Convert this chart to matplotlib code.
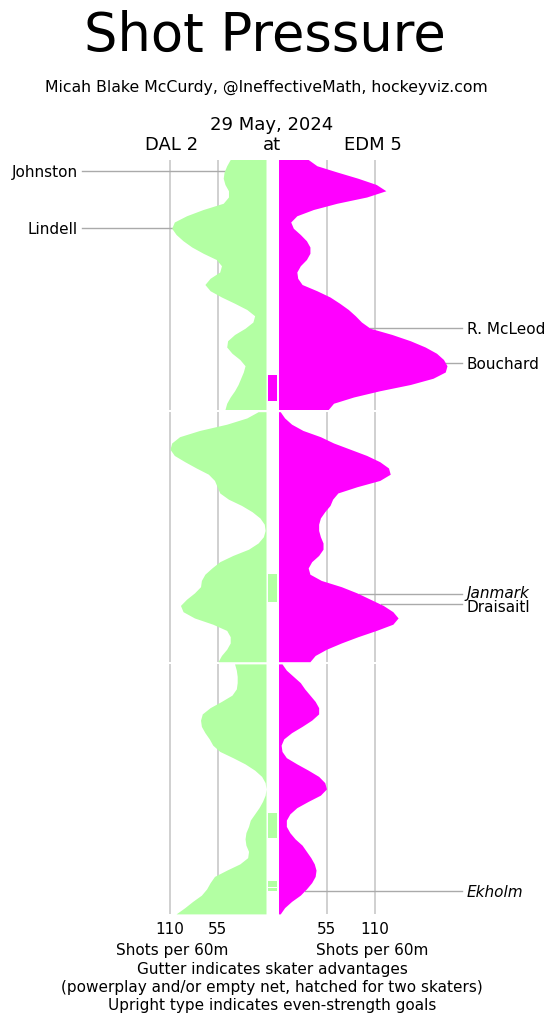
import numpy as np
import matplotlib
matplotlib.use("Agg")
import matplotlib.pyplot as plt

# minutes within a period, sampled every half minute
minutes = np.arange(0, 20.5, 0.5)

# shots per 60 minutes, one list per team per period
dal_p1 = [41, 45, 48, 49, 47, 43, 43, 49, 72, 91, 105, 108, 103, 95, 85, 72, 57, 51, 53, 64,
          70, 64, 51, 36, 22, 13, 15, 24, 36, 44, 45, 39, 30, 24, 26, 29, 32, 36, 41, 45, 47]
edm_p1 = [34, 44, 67, 91, 112, 123, 101, 67, 40, 21, 14, 17, 25, 32, 36, 36, 32, 25, 21, 22,
          27, 44, 59, 70, 80, 88, 95, 105, 130, 151, 168, 181, 189, 193, 191, 177, 151, 116, 86, 63, 57]
dal_p2 = [9, 22, 45, 76, 99, 108, 110, 105, 93, 80, 66, 59, 56, 53, 43, 28, 16, 7, 2, 1,
          3, 9, 20, 38, 53, 62, 70, 74, 75, 82, 91, 98, 95, 82, 61, 45, 41, 41, 45, 51, 55]
edm_p2 = [2, 7, 15, 28, 48, 63, 82, 101, 116, 126, 128, 116, 90, 68, 62, 59, 53, 48, 46, 46,
          48, 51, 51, 46, 38, 34, 36, 49, 72, 90, 105, 120, 131, 137, 131, 112, 91, 72, 55, 42, 36]
dal_p3 = [36, 34, 33, 33, 34, 39, 51, 64, 73, 75, 74, 70, 65, 61, 53, 38, 24, 13, 5, 1,
          0, 1, 4, 8, 13, 18, 20, 23, 24, 23, 20, 21, 30, 45, 59, 64, 68, 74, 84, 93, 103]
edm_p3 = [4, 9, 17, 25, 30, 36, 42, 46, 46, 38, 27, 15, 6, 3, 4, 9, 21, 34, 46, 53,
          55, 48, 34, 21, 13, 9, 9, 13, 19, 27, 32, 37, 41, 43, 42, 38, 32, 25, 15, 7, 2]

dal = [dal_p1, dal_p2, dal_p3]
edm = [edm_p1, edm_p2, edm_p3]

# skater advantages: period, start minute, end minute, team
adv_period = [1, 2, 3, 3, 3]
adv_start = [17.2, 13.0, 11.9, 17.4, 17.95]
adv_end = [19.3, 15.2, 13.9, 17.85, 18.15]
adv_team = ["EDM", "DAL", "DAL", "DAL", "DAL"]

# goals
goal_name = ["Johnston", "Lindell", "R. McLeod", "Bouchard", "Janmark", "Draisaitl", "Ekholm"]
goal_period = [1, 1, 1, 1, 2, 2, 3]
goal_time = [0.9, 5.44, 13.47, 16.26, 14.56, 15.41, 18.13]
goal_team = ["DAL", "DAL", "EDM", "EDM", "EDM", "EDM", "EDM"]
goal_even = [True, True, True, True, False, True, False]

tick_vals = [110, 55]

GREEN = "#b3ffa3"
MAGENTA = "#ff00ff"
COLORS = {"DAL": GREEN, "EDM": MAGENTA}

W, H = 558, 1024
PPU = 0.873          # pixels per shot/60 unit
CX = 272.25          # centre of the gutter, px
GAP = 6.25 / PPU     # half gutter, data units


def px_x(px):
    return (px - CX) / PPU


def ftext(x, y, s, **kw):
    fig.text(x / W, 1 - y / H, s, **kw)


fig = plt.figure(figsize=(W / 100, H / 100), dpi=100)

tops = [159.5, 411.7, 663.9]
ph = 250.0
axes = []
grid_x = [-(GAP + v) for v in tick_vals] + [GAP + v for v in tick_vals[::-1]]
for i, top in enumerate(tops):
    ax = fig.add_axes([0, 1 - (top + ph) / H, 1, ph / H])
    ax.set_xlim(px_x(0), px_x(W))
    ax.set_ylim(20, 0)
    for s in ax.spines.values():
        s.set_visible(False)
    ax.set_yticks([])
    ax.set_xticks(grid_x)
    ax.grid(axis="x", color="#c4c4c4", lw=1.1, zorder=0)
    ax.set_axisbelow(True)
    ax.tick_params(length=0, pad=6, labelsize=11)
    if i < 2:
        ax.set_xticklabels([])
    else:
        ax.set_xticklabels([str(v) for v in tick_vals] + [str(v) for v in tick_vals[::-1]])

    d = np.array(dal[i])
    e = np.array(edm[i])
    ax.fill_betweenx(minutes, -GAP - d, -GAP, color=GREEN, lw=0, zorder=3)
    ax.fill_betweenx(minutes, GAP, GAP + e, color=MAGENTA, lw=0, zorder=3)
    axes.append(ax)

bw = 4.3 / PPU
for p, a, b, team in zip(adv_period, adv_start, adv_end, adv_team):
    axes[p - 1].fill_betweenx([a, b], -bw, bw, color=COLORS[team], lw=0, zorder=3)

# nudge the two close labels apart a little so they do not collide
nudge = {"Janmark": -0.12, "Draisaitl": 0.12}

for name, p, t, team, even in zip(goal_name, goal_period, goal_time, goal_team, goal_even):
    ax = axes[p - 1]
    style = "normal" if even else "italic"
    ty = t + nudge.get(name, 0)
    if team == "DAL":
        edge = -GAP - np.interp(t, minutes, dal[p - 1])
        ax.plot([px_x(82), edge], [t, t], color="#aaaaaa", lw=1, zorder=2, clip_on=False)
        ax.text(px_x(78), ty, name, ha="right", va="center_baseline", fontsize=11,
                style=style, clip_on=False)
    else:
        edge = GAP + np.interp(t, minutes, edm[p - 1])
        ax.plot([edge, px_x(462)], [t, t], color="#aaaaaa", lw=1, zorder=2, clip_on=False)
        ax.text(px_x(467), ty, name, ha="left", va="center_baseline", fontsize=11,
                style=style, clip_on=False)

ftext(265, 51, "Shot Pressure", ha="center", va="baseline", fontsize=38)
ftext(266, 92, "Micah Blake McCurdy, @IneffectiveMath, hockeyviz.com",
      ha="center", va="baseline", fontsize=11.3)
ftext(272, 130, "29 May, 2024", ha="center", va="baseline", fontsize=13)
ftext(172, 150, "DAL 2", ha="center", va="baseline", fontsize=13)
ftext(272, 150, "at", ha="center", va="baseline", fontsize=13)
ftext(373, 150, "EDM 5", ha="center", va="baseline", fontsize=13)
ftext(172, 955, "Shots per 60m", ha="center", va="baseline", fontsize=11)
ftext(372, 955, "Shots per 60m", ha="center", va="baseline", fontsize=11)
ftext(272, 974, "Gutter indicates skater advantages", ha="center", va="baseline", fontsize=11)
ftext(272, 992, "(powerplay and/or empty net, hatched for two skaters)",
      ha="center", va="baseline", fontsize=11)
ftext(272, 1010, "Upright type indicates even-strength goals", ha="center", va="baseline",
      fontsize=11)

fig.savefig("out.png", dpi=100)
